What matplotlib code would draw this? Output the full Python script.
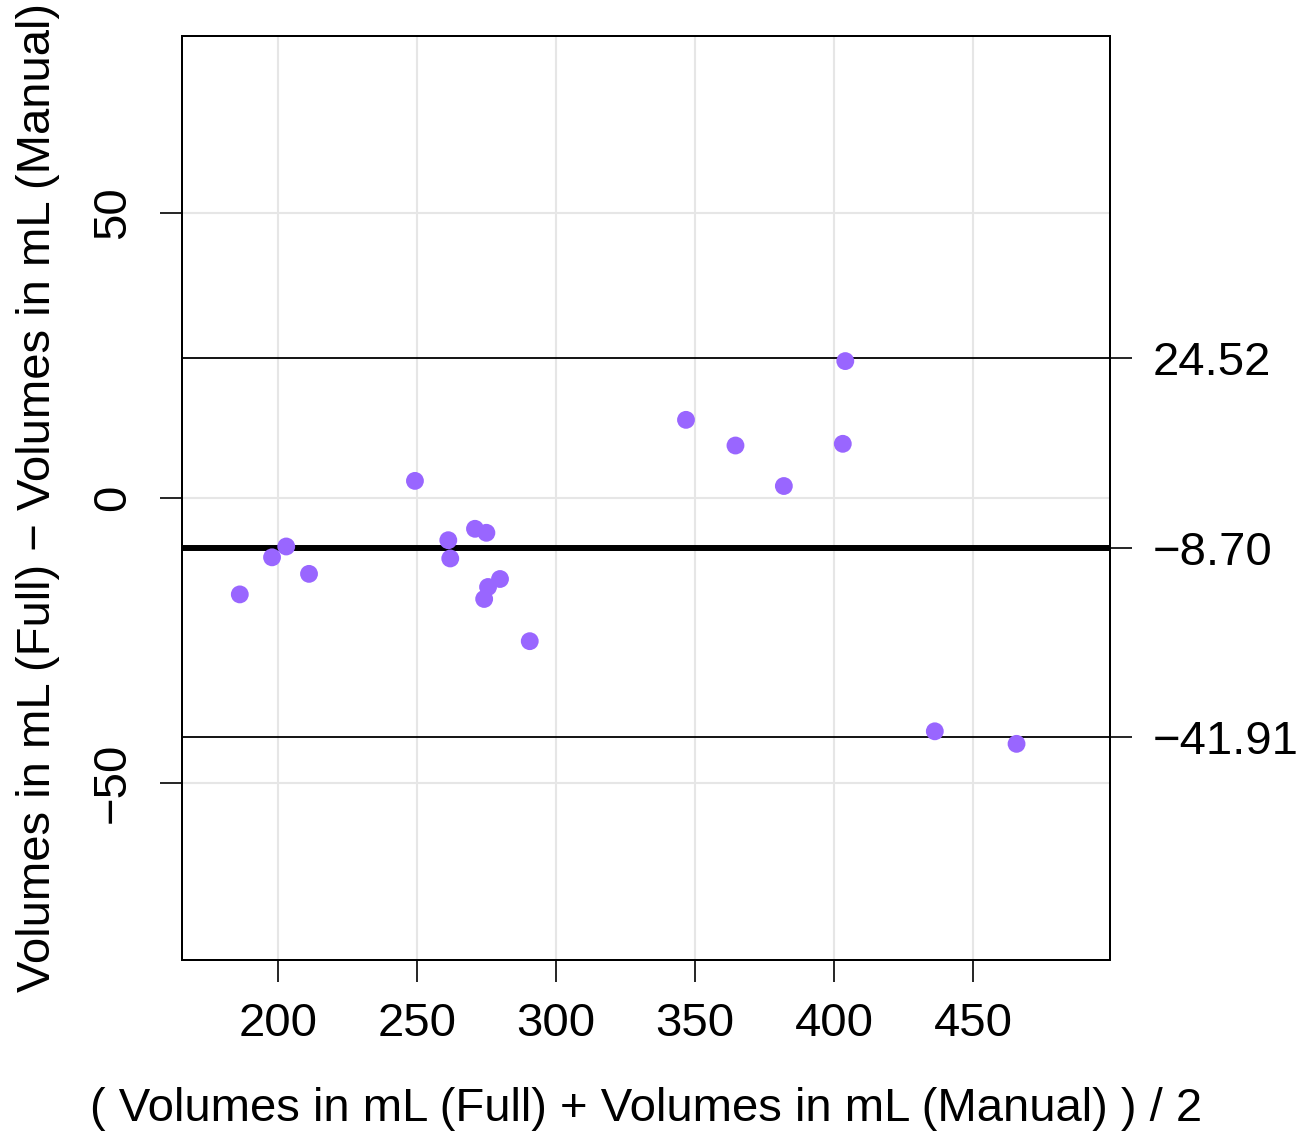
import matplotlib.pyplot as plt

plt.rcParams["font.family"] = ["Liberation Sans", "DejaVu Sans"]

# Bland-Altman data
mean_vals = [186.3, 197.9, 203.0, 211.2, 249.3, 261.3, 262.0, 270.9, 275.0,
             275.6, 274.2, 279.9, 290.6, 346.8, 364.6, 382.0, 403.2, 404.1,
             436.3, 465.7]
diff_vals = [-16.9, -10.4, -8.5, -13.3, 3.0, -7.4, -10.6, -5.4, -6.1,
             -15.6, -17.7, -14.2, -25.1, 13.7, 9.2, 2.1, 9.5, 24.0,
             -40.9, -43.1]
bias = -8.70
upper_loa = 24.52
lower_loa = -41.91
x_ticks = [200, 250, 300, 350, 400, 450]
y_ticks = [-50, 0, 50]

fs = 34
fig = plt.figure(figsize=(13.12, 11.34), dpi=100)
ax = fig.add_axes([0.1387, 0.1534, 0.846 - 0.1387, 0.9683 - 0.1534])

ax.set_xlim(165.5, 499.3)
ax.set_ylim(-81.0, 81.0)

ax.set_xticks(x_ticks)
ax.set_yticks(y_ticks)
ax.grid(True, color="#e6e6e6", linewidth=1.5, zorder=0)
ax.set_axisbelow(True)

ax.axhline(upper_loa, color="black", linewidth=1.3, zorder=2)
ax.axhline(lower_loa, color="black", linewidth=1.3, zorder=2)
ax.axhline(bias, color="black", linewidth=4.3, zorder=2)

ax.scatter(mean_vals, diff_vals, s=165, color="#9966ff", edgecolors="none", zorder=3)

for side in ax.spines.values():
    side.set_linewidth(1.4)

ax.tick_params(axis="x", direction="out", length=16, width=1.2, pad=14, labelsize=fs)
ax.tick_params(axis="y", direction="out", length=16, width=1.2, pad=18, labelsize=fs)
for lbl in ax.get_yticklabels():
    lbl.set_rotation(90)
    lbl.set_va("center")

ax.set_xlabel("( Volumes in mL (Full) + Volumes in mL (Manual) ) / 2", fontsize=fs, labelpad=30)
ax.set_ylabel("Volumes in mL (Full) \u2212 Volumes in mL (Manual)", fontsize=fs, labelpad=22)

# right axis with the limits of agreement
ax2 = ax.twinx()
ax2.set_ylim(ax.get_ylim())
ax2.set_yticks([upper_loa, bias, lower_loa])
ax2.set_yticklabels([f"{v:.2f}".replace("-", "\u2212") for v in [upper_loa, bias, lower_loa]])
ax2.tick_params(axis="y", direction="out", length=16, width=1.2, pad=15, labelsize=fs)
for side in ax2.spines.values():
    side.set_linewidth(1.4)

fig.savefig("out.png", dpi=100)
plt.close(fig)
